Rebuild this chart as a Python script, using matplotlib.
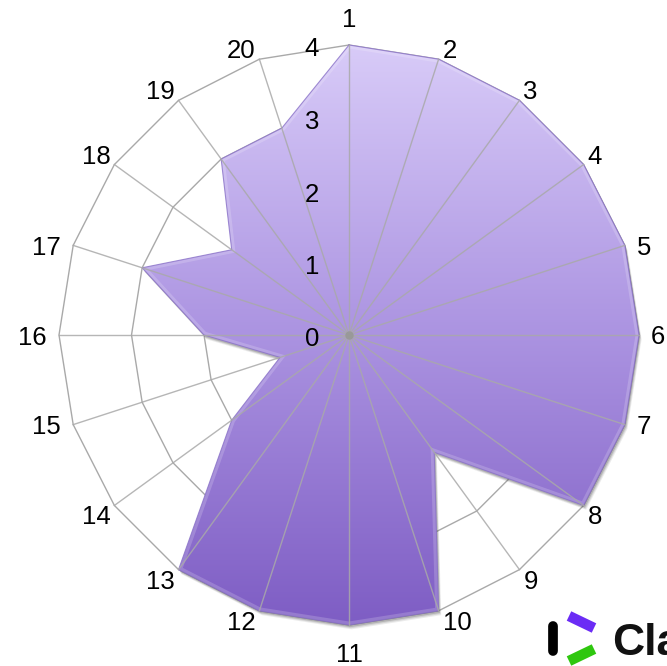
import numpy as np
import matplotlib
matplotlib.use("Agg")
import matplotlib.pyplot as plt
from matplotlib.patches import Polygon
from matplotlib.colors import LinearSegmentedColormap
from matplotlib.lines import Line2D

categories = [str(i) for i in range(1, 21)]
values = [4, 4, 4, 4, 4, 4, 4, 4, 2, 4, 4, 4, 4, 2, 1, 2, 3, 2, 3, 3]
tick_levels = [0, 1, 2, 3, 4]

plt.rcParams['font.family'] = ['Liberation Sans', 'DejaVu Sans']

W, H = 667, 666
DPI = 100
PT = 72.0 / DPI  # points per pixel
fig = plt.figure(figsize=(W / DPI, H / DPI), dpi=DPI)
ax = fig.add_axes([0, 0, 1, 1])
ax.set_axis_off()

cx, cy, R = 349, 335, 290.0
rmax = max(tick_levels)
scale = rmax / R
ax.set_xlim(-cx * scale, (W - cx) * scale)
ax.set_ylim(-(H - cy) * scale, cy * scale)
ax.set_aspect('equal')

n = len(categories)
theta = np.arange(n) * 2 * np.pi / n
sx, sy = np.sin(theta), np.cos(theta)

grid_color = '#a9a9a9'
# rings (polygonal)
for lv in tick_levels[1:]:
    xs = np.append(sx * lv, sx[0] * lv)
    ys = np.append(sy * lv, sy[0] * lv)
    ax.plot(xs, ys, color=grid_color, lw=1.0, zorder=1)

# data polygon
v = np.array(values, dtype=float)
px, py = sx * v, sy * v
pts = np.column_stack([px, py])

# soft shadow
for k, (off, a) in enumerate([(0.06, 0.10), (0.045, 0.15), (0.03, 0.22)]):
    shadow = Polygon(pts + np.array([off * 0.6, -off]), closed=True,
                     facecolor='#444444', edgecolor='none', alpha=a, zorder=2)
    ax.add_patch(shadow)

cmap = LinearSegmentedColormap.from_list('g', ['#7e5dc4', '#ab93e1', '#d8cbf8'])
grad = np.linspace(0, 1, 256).reshape(-1, 1)
im = ax.imshow(grad, cmap=cmap, origin='lower', aspect='auto',
               extent=[-rmax, rmax, -rmax, rmax], zorder=3, interpolation='bilinear')
clip = Polygon(pts, closed=True, transform=ax.transData)
im.set_clip_path(clip)

# bevel highlight along the inner edge
bevel = Polygon(pts, closed=True, facecolor='none', edgecolor='white',
                lw=5, alpha=0.18, zorder=4)
ax.add_patch(bevel)
bevel.set_clip_path(Polygon(pts, closed=True, transform=ax.transData))
edge = Polygon(pts, closed=True, facecolor='none', edgecolor='#8a72c8',
               lw=0.8, alpha=0.8, zorder=4)
ax.add_patch(edge)

# spokes
for i in range(n):
    ax.plot([0, sx[i] * rmax], [0, sy[i] * rmax], color=grid_color, lw=1.0,
            alpha=0.85, zorder=5)
ax.plot([0], [0], 'o', color='#999999', ms=5, zorder=6)

# category labels, placed next to the outer ring vertices
for i, c in enumerate(categories):
    x0, y0 = sx[i] * rmax, sy[i] * rmax
    if abs(sx[i]) < 0.05:
        ha = 'center'
        dx = 0
        if sy[i] > 0:
            va, dy = 'baseline', 18
        else:
            va, dy = 'top', -18
    else:
        ha = 'left' if sx[i] > 0 else 'right'
        if abs(sy[i]) < 0.35:
            va, dx, dy = 'center_baseline', 12 * np.sign(sx[i]), 0
        else:
            dx = 4 * np.sign(sx[i])
            va, dy = ('baseline', 1) if sy[i] > 0 else ('top', 0)
    ax.annotate(c, xy=(x0, y0), xytext=(dx * PT, dy * PT), textcoords='offset points',
                ha=ha, va=va, fontsize=18.5, color='black', zorder=7)

# tick labels
for lv in tick_levels:
    ax.annotate(str(lv), xy=(-0.51, lv), xytext=(0, -2 * PT), textcoords='offset points',
                ha='center', va='center_baseline', fontsize=18.5,
                color='black', zorder=7)

# logo (partially cut off at the right edge, as in the reference)
def fx(x):
    return x / W

def fy(y):
    return 1 - y / H

fig.add_artist(Line2D([fx(553), fx(553)], [fy(626), fy(651)], color='black',
                      lw=7, solid_capstyle='round'))
fig.add_artist(Line2D([fx(569), fx(594)], [fy(616), fy(628)], color='#6b2cf5',
                      lw=7.5, solid_capstyle='butt'))
fig.add_artist(Line2D([fx(569), fx(594)], [fy(661), fy(649)], color='#2fc70f',
                      lw=7.5, solid_capstyle='butt'))
fig.text(fx(612), fy(639), 'Clarivate', fontsize=32, fontweight='bold',
         color='#111111', ha='left', va='center_baseline')

fig.savefig('out.png', dpi=DPI)
